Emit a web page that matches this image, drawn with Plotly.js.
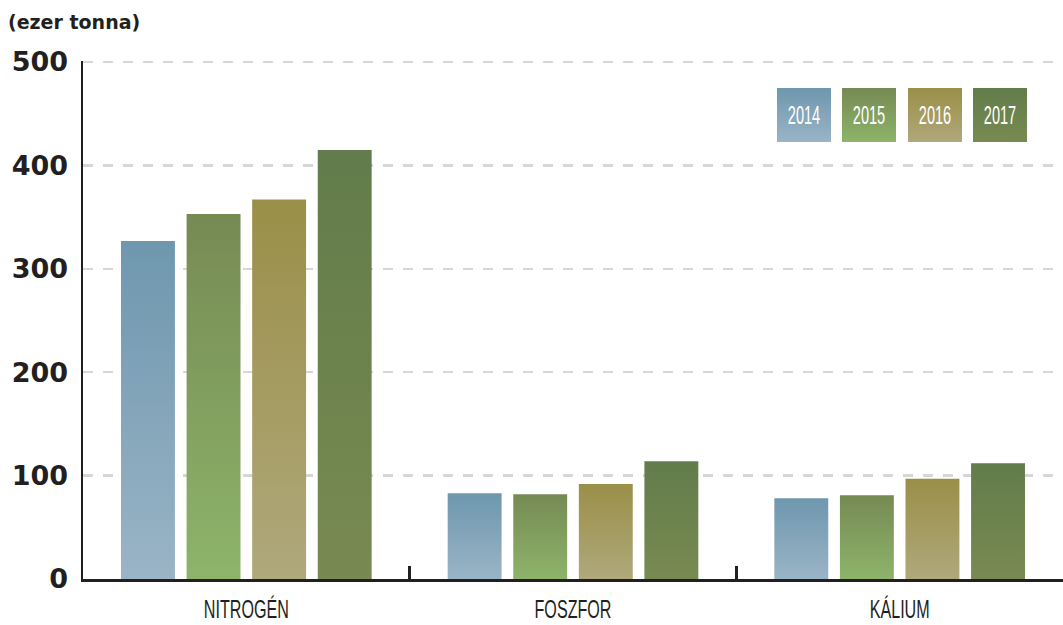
<!DOCTYPE html>
<html>
<head>
<meta charset="utf-8">
<script src="https://cdn.plot.ly/plotly-3.0.1.min.js"></script>
<style>
  html, body { margin: 0; padding: 0; background: #ffffff; }
  #chart { width: 1063px; height: 625px; }
</style>
</head>
<body>
<div id="chart"></div>
<script>
// ---- data ----
const categories = ['NITROGÉN', 'FOSZFOR', 'KÁLIUM'];
const years = ['2014', '2015', '2016', '2017'];
const v2014 = [327, 83, 78];
const v2015 = [353, 82, 81];
const v2016 = [367, 92, 97];
const v2017 = [415, 114, 112];
const yTicks = [0, 100, 200, 300, 400, 500];
const unitLabel = '(ezer tonna)';

// ---- styles ----
const series = [v2014, v2015, v2016, v2017];
const gradTop = ['#6e97ae', '#768a53', '#9a8f48', '#627c4b'];
const gradBottom = ['#9ab4c6', '#8db46a', '#afa87b', '#788a51'];
const dark = '#231f20';
const condensed = '"Liberation Sans", Arial, sans-serif';
const boldFont = '"DejaVu Sans", sans-serif';

const traces = series.map((vals, i) => ({
  type: 'bar',
  name: years[i],
  x: categories,
  y: vals,
  marker: { color: gradTop[i], line: { width: 0 } },
  hoverinfo: 'x+y+name',
  showlegend: false
}));

// legend boxes as annotations
const legendX = [0.7357, 0.8020, 0.8694, 0.9357];
const annotations = years.map((yr, i) => ({
  xref: 'paper', yref: 'paper',
  x: legendX[i], y: 0.8956,
  xanchor: 'center', yanchor: 'middle',
  text: yr,
  showarrow: false,
  width: 54, height: 54,
  borderpad: 0, borderwidth: 0,
  bgcolor: gradTop[i],
  font: { family: condensed, size: 26, color: '#ffffff' }
}));

const layout = {
  width: 1063, height: 625,
  margin: { l: 83, r: 0, t: 61, b: 45.5 },
  paper_bgcolor: '#ffffff',
  plot_bgcolor: '#ffffff',
  barmode: 'group',
  bargap: 0.197,
  bargroupgap: 0.178,
  title: {
    text: '<b>' + unitLabel + '</b>',
    xref: 'container', yref: 'container',
    x: 0.0075, xanchor: 'left',
    y: 0.965, yanchor: 'middle',
    font: { family: boldFont, size: 19, color: dark }
  },
  xaxis: {
    type: 'category',
    range: [-0.5, 2.5],
    showgrid: false,
    showline: true,
    linecolor: dark,
    linewidth: 3,
    tickson: 'boundaries',
    ticks: 'inside',
    ticklen: 13,
    tickwidth: 2.5,
    tickcolor: dark,
    tickfont: { family: condensed, size: 25, color: dark },
    ticklabelstandoff: 6,
    zeroline: false,
    fixedrange: true
  },
  yaxis: {
    range: [0, 501],
    tickmode: 'array',
    tickvals: yTicks,
    ticktext: yTicks.map(String),
    showgrid: true,
    gridcolor: '#d6d6d6',
    gridwidth: 2.5,
    griddash: '10px,10px',
    showline: true,
    linecolor: dark,
    linewidth: 2.5,
    ticks: '',
    ticklabelstandoff: 7,
    tickfont: { family: boldFont, size: 27, color: dark, weight: 'bold' },
    zeroline: false,
    fixedrange: true
  },
  annotations: annotations,
  showlegend: false
};

function condense(textEl, factor) {
  if (!textEl || textEl.getAttribute('data-condensed')) return;
  const w = textEl.getComputedTextLength();
  if (w > 0) {
    textEl.setAttribute('textLength', (w * factor).toFixed(1));
    textEl.setAttribute('lengthAdjust', 'spacingAndGlyphs');
    textEl.setAttribute('data-condensed', '1');
  }
}

function ensureStyling(gd) {
  const svg = gd.querySelector('svg.main-svg');
  if (!svg) return;
  const ns = 'http://www.w3.org/2000/svg';
  let defs = svg.querySelector('defs#custom-grads');
  if (!defs) {
    defs = document.createElementNS(ns, 'defs');
    defs.setAttribute('id', 'custom-grads');
    svg.insertBefore(defs, svg.firstChild);
    years.forEach((yr, i) => {
      const lg = document.createElementNS(ns, 'linearGradient');
      lg.setAttribute('id', 'grad' + i);
      lg.setAttribute('x1', '0'); lg.setAttribute('y1', '0');
      lg.setAttribute('x2', '0'); lg.setAttribute('y2', '1');
      const s1 = document.createElementNS(ns, 'stop');
      s1.setAttribute('offset', '0'); s1.setAttribute('stop-color', gradTop[i]);
      const s2 = document.createElementNS(ns, 'stop');
      s2.setAttribute('offset', '1'); s2.setAttribute('stop-color', gradBottom[i]);
      lg.appendChild(s1); lg.appendChild(s2);
      defs.appendChild(lg);
    });
  }
  gd.querySelectorAll('.barlayer .trace.bars').forEach((g, i) => {
    g.querySelectorAll('.point path').forEach(p => {
      p.style.fill = 'url(#grad' + i + ')';
    });
  });
  gd.querySelectorAll('.annotation').forEach((g, i) => {
    const bg = g.querySelector('rect.bg');
    if (bg) bg.style.fill = 'url(#grad' + i + ')';
    condense(g.querySelector('text.annotation-text'), 0.56);
  });
  gd.querySelectorAll('.xaxislayer-above .xtick text').forEach(t => condense(t, 0.645));
}

const gd = document.getElementById('chart');
Plotly.newPlot(gd, traces, layout, { displayModeBar: false, staticPlot: true }).then(() => {
  ensureStyling(gd);
  gd.on && gd.on('plotly_afterplot', () => ensureStyling(gd));
});
</script>
</body>
</html>
